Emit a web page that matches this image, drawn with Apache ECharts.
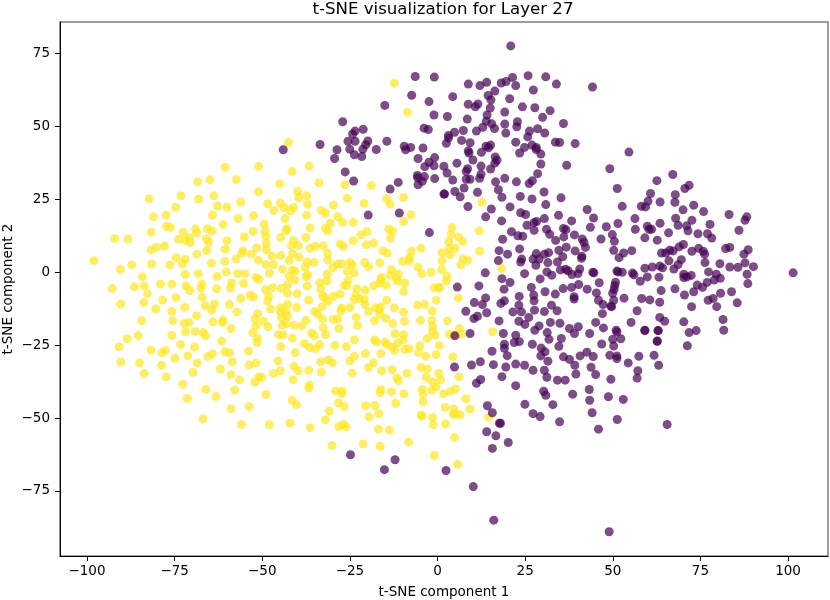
<!DOCTYPE html>
<html><head><meta charset="utf-8">
<style>html,body{margin:0;padding:0;background:#fff}#c{width:830px;height:600px}</style>
<script src="https://cdn.jsdelivr.net/npm/echarts@6/dist/echarts.min.js"></script>
</head><body><div id="c"></div>
<script>
const chartTitle = 't-SNE visualization for Layer 27';
const xLabel = 't-SNE component 1';
const yLabel = 't-SNE component 2';
const xTicks = [-100,-75,-50,-25,0,25,50,75,100];
const yTicks = [-75,-50,-25,0,25,50,75];
// x values were first read against a ruler of 3.535 px per unit; the ticks measure 3.502
const xReadingCorrection = 3.535 / 3.502;
const yellowPoints = [
[-60,36],[-50.6,36.3],[-64.3,31.7],[-67.8,31],[-56.8,31.8],[-50.6,27.6],[-72.5,26.2],[-63.2,26.2],[-81.5,25.2],[-67.5,25.1],[-55.6,24.1],[-74,22.3],[-62.2,22.7],[-59.5,22.3],[-76.7,19.6],[-63.6,19.6],[-80.3,19],[-56.4,18.4],[-52,19.4],[-60.6,16.4],[-76.6,15.8],[-75.5,15.3],[-68.4,14.8],[-65,14.9],[-63.7,14.1],[-80.9,13.7],[-71.9,13.7],[-68,13.4],[-52.1,14],[-91.3,11.5],[-87.5,11.4],[-73.2,11.3],[-70.1,11.8],[-71.3,10.9],[-69.9,10.1],[-65.3,11.5],[-64.7,10.2],[-59.5,10.8],[-54.6,12.1],[-77.2,9],[-79.4,8.5],[-80.9,7.7],[-65.2,7.4],[-60,7.9],[-68,6.2],[-55,7.3],[-55.3,6.5],[-52.6,6.2],[-51.1,8.3],[-73.9,5],[-71.3,4.4],[-56.9,4.5],[-97.1,3.9],[-50.6,4.1],[-72.1,2.9],[-63.9,3.1],[-60.1,3.7],[-86.4,2.5],[-80.8,2.8],[-75.6,2.5],[-89.6,1],
[-83.4,-1.6],[-71.3,-0.7],[-67.6,-0.5],[-62.3,-1.5],[-59.7,0.1],[-56.5,-0.5],[-54.4,-0.5],[-51.3,-1.8],[-91.9,-5.6],[-85.7,-5],[-82.9,-4.7],[-78.3,-4.1],[-75.1,-4.1],[-71.1,-4.7],[-66.6,-4.1],[-66.8,-5.4],[-70,-6.3],[-62.4,-5.7],[-58.2,-3.7],[-58.5,-5.4],[-54.8,-3.9],[-82,-7.4],[-53,-7.9],[-52,-8.5],[-55.6,-9],[-66.5,-8.6],[-73.9,-8.7],[-77.7,-9.6],[-89.5,-10.9],[-83,-10.4],[-63,-10.9],[-65.6,-11.5],[-58.8,-11.1],[-71.4,-12],[-79.6,-12.6],[-63.8,-13],[-75.1,-13.5],[-56.7,-13.6],[-68.1,-14.9],[-50.8,-14.2],[-51.6,-16],[-83.6,-16.6],[-74.8,-16.6],[-70.2,-17.2],[-71.6,-17.6],[-63.5,-17],[-60.6,-16.4],[-60.8,-17.2],[-51.3,-18.5],[-58.3,-19.3],[-71.2,-20.4],[-68.5,-20.3],[-66.2,-20.7],[-65.6,-21.8],[-52.2,-20.7],[-84.6,-21.7],[-75.1,-21.7],[-87.7,-22.8],[-50.9,-22.7],[-61,-23.6],[-51,-24.1],[-72.6,-24.8],[-90,-25.6],[-68.7,-25.6],[-81,-26.7],[-76.9,-26.8],[-77.9,-27.6],[-60.1,-27.3],[-58.8,-27.6],[-53.4,-27.1],[-63.6,-28],[-64.9,-28.9],[-70.6,-28.7],[-74.2,-29.5],[-89.5,-30.8],[-84.2,-31.1],[-67.9,-31.1],[-58,-30.7],[-78,-31.9],[-53.2,-31.8],[-51.3,-31.1],[-61.4,-33.2],[-69.1,-34.4],[-82.9,-34.7],[-58.4,-35.1],[-76.7,-35.9],[-55.9,-36.9],[-50.5,-35.9],[-51.6,-37.7],[-72,-38.4],[-65.5,-40.2],[-57.3,-40.4],[-62.6,-42.6],[-70.7,-43.3],[-58.3,-46.8],[-53.2,-46.1],[-66.3,-50.3],[-55.4,-52.2],
[-42.1,44.5],[-36.3,36.4],[-41.1,34.5],[-44.6,30.3],[-33.5,30.7],[-26.2,30],[-18.7,29.7],[-39.5,27.7],[-39.2,25.5],[-37,26.2],[-36.7,23.3],[-48,23.5],[-44.4,23.7],[-43.4,22.2],[-46.3,21.2],[-40.7,22.2],[-41.6,21.1],[-29.4,23],[-25.5,25.4],[-20.7,23.6],[-14.4,25.3],[-13.4,23.3],[-9.6,25.6],[-32.8,21.2],[-31.7,20.3],[-37,19.5],[-43.1,18.4],[-28.2,19],[-26.8,17.1],[-23.8,17.1],[-7.5,19.7],[-9.6,17.4],[-30.3,16.8],[-49,16.5],[-42.6,14.9],[-42.8,14.2],[-36,15.2],[-31.7,15.1],[-31,14.2],[-48.7,14],[-19.9,13.9],[-13.8,14.8],[-12.7,14.1],[-48.5,12.3],[-21.6,12.8],[-37.2,11.9],[-44.3,11.9],[-13.3,11.7],[-40.7,10.9],[-23.8,10.8],[-27.5,9.7],[-26.6,8.8],[-48.4,9.9],[-20.1,9.4],[-18,10],[-41.3,9.1],[-39.3,9.1],[-32.3,9.1],[-34.5,8.9],[-36,8.2],[-48.4,7.7],[-4.7,8.2],[-15.4,7.3],[-14.2,6.6],[-7.4,7.2],[-31.1,6.6],[-41,6.3],[-44.3,5.8],[-46.7,5.5],[-39.2,5.2],[-7.9,5],[-8,3.9],[-9.8,3.7],[-41.9,4],[-31,4.2],[-20.6,3.3],[-16.3,3.2],[-34.9,3.3],[-36.9,3.5],[-48.5,2.6],[-46.3,2.6],[-27.1,2.9],[-28.4,2.7],[-24.7,3.3],[-24.1,2.5],[-19.5,1.9],[-29.6,1.5],[-37.4,1.7],[-5.5,1.7],[-43.8,1],[-41,0.8],[-40.2,0.4],[-47.5,-0.3],[-25.5,0.4],[-23.5,-0.3],[-13,0.9],[-11,-0.7],[-13.4,-1],[-4.4,-0.5],[-1.8,0],[-36.7,-0.9],[-31.2,-0.7],[-15.9,-1.8],[-41.9,-1.4],[-37.2,-1.5],
[-50.4,-2.5],[-40.3,-2.7],[-36.8,-4.7],[-42.4,-4.3],[-48.6,-6],[-46.6,-5.3],[-44.1,-5.5],[-42.4,-7.2],[-39.7,-7.4],[-47.7,-8.2],[-48,-9.8],[-33.2,-3.6],[-31.2,-3],[-25.6,-4.6],[-25.2,-2.7],[-26.3,-4.5],[-33,-5.7],[-22.8,-5.6],[-18,-4.7],[-16,-2.7],[-14.5,-4.5],[-16.4,-3.7],[-11.7,-2.2],[-11.2,-3.1],[-9.2,-3.7],[-9.6,-6.6],[-20.4,-6.2],[-0.9,-5.3],[0.3,-5.4],[-32.5,-8.1],[-31.8,-8.8],[-29.4,-8.3],[-27.5,-7.5],[-36.4,-9.6],[-30.9,-10],[-23.1,-7.9],[-23.5,-9.4],[-22.1,-9],[-20.7,-9.4],[-14.4,-9.6],[-0.4,-9.6],[-32.6,-11.8],[-42.4,-11],[-20.5,-11.1],[-5.6,-11.3],[-3.6,-11],[-24.7,-12.1],[-27.1,-12.3],[-44.4,-12.2],[-39.8,-12.1],[-47.2,-12.6],[-17.4,-12.2],[-16,-11.9],[-16.6,-12.8],[-12.2,-12.2],[-1.5,-13.3],[-44.4,-13.6],[-42.8,-13.6],[-27.3,-13.3],[-34.7,-13.5],[-19.5,-13.5],[-33.9,-14.3],[-9.6,-13.6],[-16.3,-14.4],[-42.4,-15.1],[-44.1,-15.5],[-32.5,-16],[-23,-15.4],[-17.8,-16.6],[-14.6,-15.8],[-29.4,-16.2],[-28.2,-16],[-9.3,-16.8],[-4.8,-16.5],[-1.6,-16.5],[-37.2,-16.5],[-49.2,-16.8],[-40.5,-18.2],[-42.7,-17.6],[-38.4,-18.4],[-43.9,-18.2],[-47.9,-18.7],[-22.6,-18.3],[-12.6,-17.6],[-32.3,-19],[-27.8,-19.3],[-1.4,-18.7],[-1.4,-20.4],[-35.6,-20.8],[-34.8,-21.8],[-44.9,-21.4],[-43.6,-21.5],[-31.6,-21.4],[-12,-21.1],[-9.6,-21.4],[-0.7,-21.7],[-2.9,-22.7],[-41,-22.6],[-9.7,-23.2],[-23.5,-23.2],[-17.8,-23.2],[-17.3,-23.9],[-14.8,-23.9],[-14.4,-24.7],[-11.2,-24.2],[-37.6,-24.5],[-33.3,-24.8],[-29,-25.1],[-25.8,-25.5],[-44.3,-25.5],[-36.1,-25.8],[-34.4,-26.3],[-12.8,-25.7],[-12.1,-26.8],[-5,-25.2],[0.5,-25.1],[-9.2,-26.4],[-8,-26.2],[-5.4,-27.5],[-0.4,-28.2],[-3.3,-28.8],[-20.4,-27.9],[-16,-27.9],[-40.2,-27.6],[-23.5,-28.8],[-30.9,-30],[-45.1,-30.4],[-33,-30.7],[-29.7,-31.1],[-24.8,-30.4],[-18.1,-31.1],[-4.7,-32.7],[-19.5,-32.7],[-2.9,-33.2],[-40.6,-32.2],[-39.4,-33.8],[-44.4,-33.8],[-36.4,-33.6],[-15.8,-33.8],[-12.8,-33.4],[-46.4,-34.7],[-32.8,-34.3],[-24.1,-34.6],[-8.6,-34.7],[0.3,-34.7],[-49.7,-36.1],[-3.2,-36.1],[0.9,-36.9],[-11.5,-36.3],[-11,-37.2],[-40.8,-36.9],[-1.4,-37.6],[-36.2,-38.7],[-36.4,-39.7],[-0.4,-39.3],[-4.3,-40.2],[-1.6,-40.4],[3.6,-40.8],[-16,-40.2],[-16.2,-41.3],[-28.8,-40.7],[-26.9,-40.7],[-27.1,-41.6],[-13,-41],[-9.5,-41.7],[-4.1,-41.8],[1.7,-41.7],[-48.5,-41.9],[-4.1,-44.4],[-41.1,-43.9],[-39.8,-45.5],[-11.8,-44.9],[-28,-44.8],[-26.4,-46],[-20.3,-45.8],[-17.7,-45.7],[2.2,-46.4],[4.5,-48.7],[-30.6,-47.6],[-16.6,-48.5],[-19.3,-49.6],[-4.6,-49],[-4.4,-49.3],[-1.4,-49.8],[-31.7,-50.6],[-1.2,-52.3],[2.2,-52],[-47.5,-52.3],[-41.7,-51.7],[-36,-53.3],[-27.9,-52.9],[-26.6,-52.2],[-25.9,-53],[-16.7,-53.8],[-13.6,-54.1],
[4.8,-56.7],[-29.8,-59.4],[-21,-58.9],[-16.2,-59.7],[-8.2,-58.2],[-0.9,-62.8],[5.7,-65.8],
[12.5,24],[4.1,15.3],[11.8,14.2],[3.8,12.9],[6,12],[3.2,10.4],[7.1,10.5],[11.9,7.2],[3.4,8.1],[5,8.2],[3.5,6],[1.3,6.7],[1.3,3.9],[7.2,4.6],[8.5,4],[6.6,2.5],[1.2,0.9],[18.1,1.3],[2.7,-1.4],[2.5,-3],[0.6,-5.2],[5.9,-8.8],[2.8,-16.7],[6.2,-19.3],[15.6,-20.4],[3.4,-21.3],[4.8,-21.4],[6.7,-21.3],[4.3,-29],[6.1,-35.9],[5.1,-40],[8,-43.4],[4.6,-47],[5,-48.7],[6.4,-48.9],[9.2,-46.9],[14.4,-49.7],
[-12.2,64.8],[-8.5,54.8]
];
const purplePoints = [
[20.7,77.6],[-6.3,67.1],[-0.9,66.9],[21.2,66.8],[25.6,67.4],[30.6,67],[33.6,64.5],[43.8,63.5],[8.7,64.5],[12,64],[13.9,65.1],[18,64.9],[19.4,65.4],[22.1,64],[16.2,62.1],[27.1,62.5],[-7.3,60.7],[14.3,60.6],[4.3,60.2],[-2.4,58.5],[20.4,59.5],[15.1,59.1],[8.7,57.6],[11.4,57.7],[10.7,56.7],[-14.9,57.2],[14.9,56.3],[24,56.7],[27.5,56.4],[31.8,55.4],[19,54.9],[-1,53.9],[2.8,53.4],[14,53.9],[29.7,53.1],[8.4,52.5],[-26.8,51.6],[13.8,51.8],[22.6,51.6],[19,50.8],[15.3,50.9],[35.6,51],[22.4,49.9],[16.1,49.3],[12.8,49.7],[-3.8,49.4],[-2.6,48.9],[-21,49],[7.3,48.6],[11,48.4],[26,48.4],[28.3,49.2],[-23.3,48.4],[-24,47.4],[4.8,48],[19.3,47.7],[30.3,47.7],[3.1,46.9],[3.1,46],[25.5,46.4],[-19.7,45],[-23.3,44.9],[-25.3,44.9],[-14.3,44.9],[6.8,45.2],[2.5,44.2],[9.2,44.4],[22.1,44.6],[33.3,44.6],[34.5,44.5],[38.9,44.1],[-33.2,43.8],[-20.3,43.7],[15,43.6],[13.7,43.2],[14.4,42.7],[-9.4,43.2],[-7.6,42.8],[-9,42],[-4.1,42.6],[24.6,42.8],[26.7,43.6],[27.9,42.8],[27.9,42.1],[-24.8,42.2],[-21.1,42.2],[-28.4,42],[-17.3,42.1],[8.7,41.6],[8.9,40.9],[12.4,41.1],[23.2,40.9],[29.2,40.5],[-23.5,40.3],[-21.4,39.7],[-5.5,39],[-29.1,39],[-0.8,39.3],[10,38.5],[16.3,39.5],[16.8,38.4],[16.2,37.4],[-2.4,37.7],[5.5,37.4],[29.2,37.1],[36.5,36.7],[-3.6,36.2],[-1,36.5],[1.8,36.3],[12.3,36.4],[15,35.4],[8.5,35.5],[8.1,34.6],[-26.1,34.4],[2.7,34],[28.3,33.8],[-5.7,33.2],[-3.7,32.8],[12.3,33.6],[8.1,31.9],[9.2,31.9],[11.9,32.2],[-5.6,32.4],[-0.8,32.1],[4.3,31.6],[19,32.2],[22.3,31],[16.4,31],[26.8,31.4],[25.9,30.4],[-23.7,31.3],[-11.1,30.8],[-4.3,31.2],[-5.5,30],[-13.4,28.5],[7.5,28.9],[17.2,28.3],[4.9,27.7],[11.3,27.4],[30.1,27.5],[2,26.8],[1.8,26.8],[6.4,25.9],[18.2,25.7],[23.4,26],[26.7,25.1],[34.9,25.5],
[-43.6,42],[-19.6,19.6],[-10.8,20.3],[-2.3,13.6],
[8.6,22.5],[20.5,22.4],[30.6,23.2],[15.2,21.7],[13.6,19],[23.5,20.4],[24.9,19.8],[34.2,19.5],[42.3,21.5],[44.1,18.6],[18.1,17.6],[30.2,18.4],[37.9,17.6],[27.3,17],[25.3,16.1],[28,17.4],[27.3,14.4],[43.2,15.4],[47.7,15.6],[30.8,14.7],[35.6,15],[36.3,14.6],[20.9,13.9],[22.7,12.5],[24.1,12.3],[31.7,13],[35.7,12.1],[38.7,12.8],[49.4,12.9],[18.4,11.3],[33.4,10.9],[40.9,11.4],[46.2,11.4],[41.4,10.2],[50,10.6],[23.2,8],[17.4,7.4],[36.4,8.6],[34.3,7.5],[41.8,8.5],[38.9,7.3],[49.8,7.5],[19.8,6.2],[27.9,6.4],[30.2,6.2],[31.4,6.7],[40.8,5.5],[40.7,4.8],[35.4,5.3],[17.2,4],[23.8,4.5],[27,4.5],[28.7,4.5],[23.5,3.5],[31.2,3.3],[33.9,3.5],[27.8,2.4],[34.7,0.8],[36.2,1],[36.9,0.5],[40.2,1.1],[30.9,0.1],[32.3,-1],[38,-0.8],[39.7,-0.5],[43.9,0],[44.2,-0.2],[50.7,0.4],[13.5,-0.2],[24.6,-0.5],[18.2,-2.2],[29,-2.3],[20.5,-3.5],[45.7,-3.6],[50.3,-3.4],[11.7,-4.7],[5.6,-5.1],[18.8,-5.8],[26.5,-5.2],[35.5,-5.6],[37.9,-5.2],[39.9,-4.2],[42.3,-5.8],[49.9,-5.9],[30.4,-6.7],[33.3,-7.5],[44.9,-7.1],[27.2,-7.9],[23.1,-8.3],[38.6,-8.4],[38.6,-9.2],[49.5,-7.2],[27.3,-9.8],[13.6,-8.8],[18.9,-9.8],[17.9,-10.7],[10.4,-10.4],[12.7,-11.1],[45.5,-9.6],[49.8,-9.6],[23,-11.3],[32.2,-11.3],[46.8,-11.1],[49,-11.6],[27.4,-13],[30.2,-13.5],[33.8,-13.2],[21.3,-13.6],[23.7,-13.6],[8,-13.4],[13.9,-13.9],[11.3,-15.1],[10.3,-15.9],[46.6,-14.2],[25.8,-15.5],[17.4,-16.7],[23,-16.8],[24.7,-17.9],[31.9,-17.2],[34.6,-17.5],[44.7,-17.2],[28.7,-18.4],[27.5,-19.9],[37.3,-19.3],[39.8,-18.7],[46.9,-19.1],[31,-20.7],[38.7,-21],[43,-21],[9.2,-21],[18.6,-21],[22.1,-21.6],[4.9,-21.8],[50.5,-19.9],[35,-22.7],
[18.9,-24.7],[18.9,-26.1],[21.7,-24.1],[23.1,-23.8],[26.8,-24.7],[31.5,-23],[34.3,-25.4],[29.3,-26],[30.4,-27.3],[29.2,-28.7],[15.4,-27.1],[19.7,-28.6],[35.6,-29],[37.3,-29.9],[40.3,-28.7],[42.2,-27.4],[44,-28.9],[46.4,-24.6],[49.8,-25.3],[49.5,-23],[51.8,-22.8],[48.7,-28.5],[50.7,-28.7],[50.7,-29.6],[56.9,-28.8],[53.9,-31.1],[61.2,-28.5],[62.1,-23.7],[62.5,-31.9],[56.6,-33.8],[56.4,-36.3],[4.8,-32.5],[9.6,-31.8],[12.1,-30.7],[15.8,-31.7],[19.3,-32.5],[22.1,-31.5],[24.6,-31.9],[27,-33.6],[30.2,-33.6],[31.2,-30.5],[38.8,-31.9],[43.4,-32.6],[39.1,-34.9],[44.7,-35.1],[49,-36.7],[30.9,-36],[33.9,-37],[36.1,-37],[18.2,-35.8],[12.2,-36.8],[11,-38.1],[22.1,-38.9],[30,-40.8],[30.6,-42.2],[38.2,-41.8],[42.9,-40.2],[43,-43.9],[48.3,-42.7],[52.5,-43.6],[14.1,-45.8],[15.5,-48.2],[24.7,-45.3],[32.6,-45.4],[43.7,-48.2],[27,-48.5],[29,-49.5],[34.5,-51.3],[17.8,-51.8],[50.8,-50.5],[45.5,-53.8],[13.9,-54.7],[16.5,-56.1],[20,-58.4],[15.5,-60.4],[64.9,-52.2],[2.4,-68],[10.1,-73.5],[15.9,-85],[48.5,-89],[-24.6,-62.6],[-12,-64.3],[-15,-67.7],[17.5,-51.8],[58.6,-20],[62.3,-20],
[54.1,41.2],[48.7,35.5],[66.5,33.5],[62,31.4],[71.1,29.8],[69.9,28.7],[50.8,28.7],[60.2,27],[67.2,26.6],[59.5,24.4],[62.9,24.1],[67.1,24],[72.4,23],[52.2,22.6],[57.6,22.6],[58.8,22.4],[69.4,21.4],[75.2,20.8],[82.4,19.8],[87.4,19],[86.9,17.8],[55.8,18.4],[67.3,18.5],[71.9,17.8],[51,16.7],[62.9,16.8],[77,16.4],[68,16.1],[70.4,15.9],[59.3,15.8],[55.9,14.7],[59.8,14.7],[60.5,14.7],[70.8,14.2],[85.2,14.4],[65.3,13.5],[73.6,13.2],[76.3,13.2],[58.6,11.8],[77.5,11.7],[62.1,11],[69.5,9.5],[68.3,8.7],[82.6,8.5],[81.4,8.1],[87.8,7.7],[54.9,7.4],[65.6,7.5],[66.6,7.3],[71.9,7.2],[73.8,8.2],[75.1,7.2],[52.6,6.6],[63.3,6.6],[64.5,6.6],[86.6,6.2],[75.5,6.2],[51.3,5],[68.9,4.3],[65.4,3.9],[75.6,3.3],[79.8,2.9],[68,2.6],[86.9,3.2],[60.7,1.8],[82.6,1.8],[84.9,1.7],[89.3,1.9],[58.6,1.4],[62.8,2.1],[63.6,1.5],[66.8,1.1],[100.5,-0.2],[51,0.1],[52.2,0],[55.1,-0.3],[55.5,-0.9],[76.6,0.1],[87.5,-0.7],[59.3,-1.6],[62.6,-1.7],[69.6,-0.7],[71.7,-1.1],[69.6,-1.8],[70.5,-1.6],[78.8,-0.7],[79.9,-2.1],[78.2,-2.7],[57.3,-3.1],[76.2,-3.5],[87.7,-3.9],[50.1,-4.6],[73.4,-4.4],[74.9,-5.2],[63.2,-6.3],[67.1,-5.7],[72.4,-6.7],[83.1,-6.7],[80,-7.2],[69.8,-7.8],[57.7,-9],[52.7,-8.9],[60,-9.5],[77.9,-9],[76.5,-9.6],[62.8,-10.3],[84.7,-10.5],[49.2,-11.8],[71.8,-11.8],[78.9,-11.8],[56.4,-13.2],[62.8,-15.5],[80.7,-16.2],[64.2,-16.8],[69.6,-17],[54.7,-17.2],[58.6,-19.9],[62.4,-20],[73.1,-20],[71.1,-20.7],[80.9,-19.9],[50.7,-20.5],[62.1,-23.6],[70.6,-25.2]
];
const font = 'DejaVu Sans';
const minus = v => String(v).replace('-', '\u2212');
const corrected = pts => pts.map(p => [p[0] * xReadingCorrection, p[1]]);
function axis(name, min, max, ticks, gap, margin){
  return {
    type:'value', name, nameLocation:'middle', nameGap:gap, nameMoveOverlap:false, min, max,
    nameTextStyle:{color:'#000',fontFamily:font,fontSize:13.5},
    axisLine:{show:true,onZero:false,lineStyle:{color:'#000',width:1}},
    axisTick:{show:true,length:5,customValues:ticks,lineStyle:{color:'#000',width:1}},
    axisLabel:{color:'#000',fontFamily:font,fontSize:13.5,margin,customValues:ticks,formatter:minus},
    splitLine:{show:false}
  };
}
const chart = echarts.init(document.getElementById('c'),null,{renderer:'canvas'});
chart.setOption({
  animation:false,
  backgroundColor:'#fff',
  title:{text:chartTitle,left:438,top:-4,textAlign:'center',textStyle:{color:'#000',fontFamily:font,fontSize:16.6,fontWeight:'normal'}},
  grid:{left:60,right:2,top:22,bottom:44,containLabel:false,outerBoundsMode:'none',show:true,borderColor:'#808080',borderWidth:1.5,backgroundColor:'#fff'},
  xAxis:axis(xLabel,-107.7,111.4,xTicks,29,8),
  yAxis:axis(yLabel,-97.3,85.8,yTicks,45,10),
  series:[
    {type:'scatter',data:corrected(yellowPoints),symbolSize:9,itemStyle:{color:'#fde725',opacity:0.7},silent:true},
    {type:'scatter',data:corrected(purplePoints),symbolSize:9,itemStyle:{color:'#440154',opacity:0.7},silent:true}
  ]
});
</script></body></html>
